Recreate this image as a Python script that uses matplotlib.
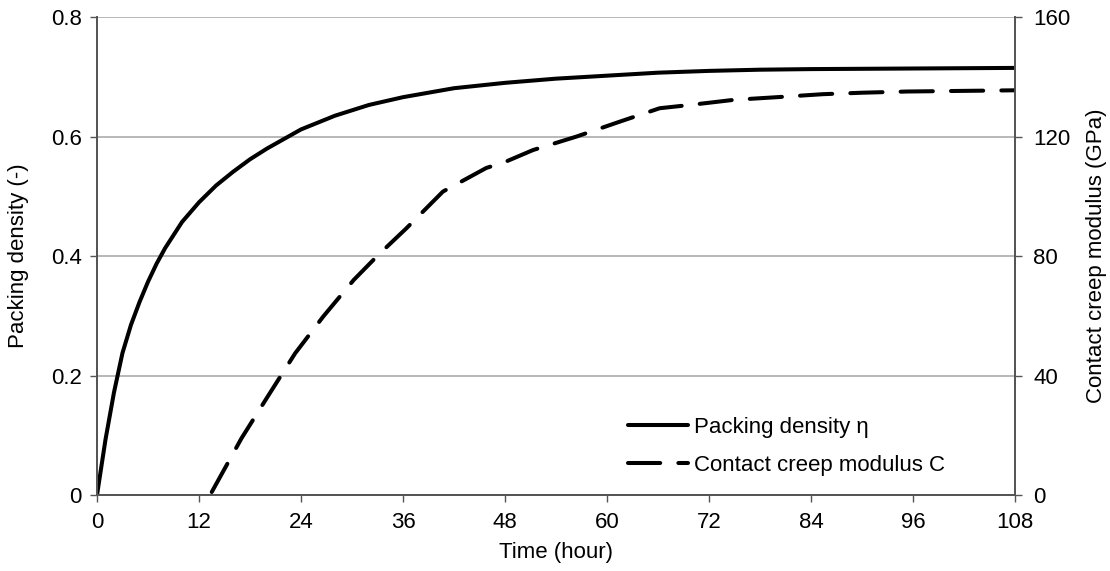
import matplotlib
matplotlib.use("Agg")
import matplotlib.pyplot as plt

plt.rcParams['font.family'] = ['Liberation Sans', 'DejaVu Sans']

# Packing density (solid)
t_eta = [0, 1, 2, 3, 4, 5, 6, 7, 8, 10, 12, 14, 16, 18, 20, 22, 24, 28, 32, 36,
         42, 48, 54, 60, 66, 72, 78, 84, 96, 108]
eta = [0, 0.093, 0.172, 0.238, 0.285, 0.323, 0.357, 0.387, 0.413, 0.457, 0.49,
       0.518, 0.541, 0.562, 0.58, 0.596, 0.612, 0.635, 0.653, 0.666,
       0.681, 0.69, 0.697, 0.702, 0.707, 0.71, 0.712, 0.713, 0.714, 0.715]

# Contact creep modulus (dashed)
t_C = [13.5, 17, 20.2, 23.3, 26.6, 30.2, 33.1, 36.4, 40.7, 45.8, 48, 51.3, 56.4,
       61.5, 66.2, 69.8, 74.9, 80, 85.4, 90.1, 95.4, 108]
C = [1, 19, 33.5, 47.4, 59.7, 72, 80.4, 89.3, 101.6, 109.5, 111.5, 115.5, 120,
     125, 129.5, 130.6, 132.3, 133.2, 134.2, 134.7, 135.1, 135.5]

xticks = [0, 12, 24, 36, 48, 60, 72, 84, 96, 108]
yticks_left = [0, 0.2, 0.4, 0.6, 0.8]
yticks_right = [0, 40, 80, 120, 160]
left_labels = ['0', '0.2', '0.4', '0.6', '0.8']

fig = plt.figure(figsize=(11.1, 5.71), dpi=100)
ax = fig.add_axes([0.0874, 0.1331, 0.8270, 0.8369])
ax2 = ax.twinx()

spine_c = '#555555'
fs = 16

l1, = ax.plot(t_eta, eta, color='black', lw=2.9, solid_capstyle='round',
              solid_joinstyle='round', label='Packing density η')
l2, = ax2.plot(t_C, C, color='black', lw=2.9, dashes=(8, 4.5),
               dash_capstyle='round', dash_joinstyle='round',
               label='Contact creep modulus C')

ax.set_xlim(0, 108)
ax.set_ylim(0, 0.8)
ax2.set_ylim(0, 160)
ax.set_xticks(xticks)
ax.set_yticks(yticks_left)
ax.set_yticklabels(left_labels)
ax2.set_yticks(yticks_right)

ax.yaxis.grid(True, color='#b8b8b8', lw=1.4)
ax.set_axisbelow(True)

for a in (ax, ax2):
    a.spines['top'].set_visible(False)
    for s in ('left', 'right', 'bottom'):
        a.spines[s].set_color(spine_c)
        a.spines[s].set_linewidth(1.3)
    a.tick_params(direction='out', length=5, width=1, color=spine_c,
                  labelsize=fs)
ax.tick_params(axis='x', pad=7)
ax.tick_params(axis='y', pad=6)
ax2.tick_params(axis='y', pad=8)

ax.set_xlabel('Time (hour)', fontsize=fs, labelpad=7)
ax.set_ylabel('Packing density (-)', fontsize=fs, labelpad=16)
ax2.set_ylabel('Contact creep modulus (GPa)', fontsize=fs, labelpad=11)

leg = ax.legend(handles=[l1, l2], loc='lower left',
                bbox_to_anchor=(0.578, 0.04), frameon=False, fontsize=fs,
                handlelength=2.7, handletextpad=0.3, labelspacing=0.78,
                borderpad=0, borderaxespad=0)

fig.savefig('out.png', dpi=100)
